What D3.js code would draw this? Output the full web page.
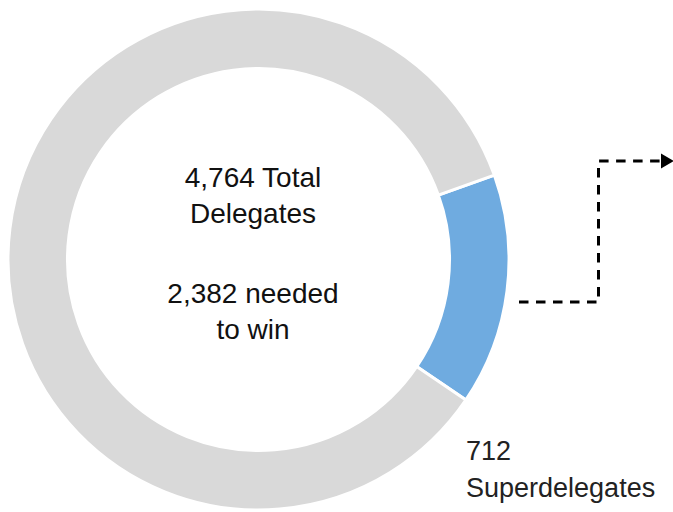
<!DOCTYPE html>
<html>
<head>
<meta charset="utf-8">
<script src="https://cdn.jsdelivr.net/npm/d3@7"></script>
<style>
  html, body { margin: 0; padding: 0; background: #fff; }
</style>
</head>
<body>
<div id="graph-container"></div>
<script>
const categories = ['Superdelegates', 'Pledged delegates'];
const values = [712, 4052];
const colors = ['#6fabe0', '#d9d9d9'];
const centerLines = ['4,764 Total', 'Delegates', '', '2,382 needed', 'to win'];
const calloutLines = ['712', 'Superdelegates'];

const main = () => {
  const width = 673;
  const height = 512;
  const cx = 258.5;
  const cy = 259.5;
  const outerR = 250.5;
  const innerR = 191;
  const START = 70.3 * Math.PI / 180;
  const FONT = "'Liberation Sans', Arial, sans-serif";

  const svg = d3.select('#graph-container')
    .append('svg')
    .attr('width', width)
    .attr('height', height)
    .attr('style', 'background:white;display:block');

  const pie = d3.pie()
    .sort(null)
    .value(d => d)
    .startAngle(START)
    .endAngle(START + 2 * Math.PI);

  const arc = d3.arc().innerRadius(innerR).outerRadius(outerR);

  const g = svg.append('g').attr('transform', `translate(${cx},${cy})`);

  g.selectAll('path.slice')
    .data(pie(values))
    .join('path')
    .attr('class', 'slice')
    .attr('d', arc)
    .attr('fill', (d, i) => colors[i])
    .attr('stroke', '#fff')
    .attr('stroke-width', 3);

  // centre text
  const lineH = 36;
  const top = 187;
  g.append('text')
    .attr('text-anchor', 'middle')
    .attr('font-family', FONT)
    .attr('font-size', 28)
    .attr('fill', '#111')
    .selectAll('tspan')
    .data(centerLines)
    .join('tspan')
    .attr('x', -5.5)
    .attr('y', (d, i) => top - cy + i * lineH + (i > 2 ? 8 : 0))
    .text(d => d);

  // dashed connector from the superdelegate slice
  const blue = pie(values)[0];
  const mid = (blue.startAngle + blue.endAngle) / 2;
  const x0 = cx + outerR + 10;
  const y0 = cy - Math.cos(mid) * outerR + 11;
  const xTurn = 598.5;
  const yTop = 161;
  const arrowLen = 11;
  svg.append('path')
    .attr('d', `M${x0},${y0} H${xTurn} V${yTop} H${width - arrowLen}`)
    .attr('fill', 'none')
    .attr('stroke', '#000')
    .attr('stroke-width', 3)
    .attr('stroke-dasharray', '9.5,7.5');

  svg.append('path')
    .attr('d', `M${width - arrowLen - 1},${yTop - 7.5} L${width + 1},${yTop} L${width - arrowLen - 1},${yTop + 7.5} Z`)
    .attr('fill', '#000');

  // callout label
  svg.append('text')
    .attr('font-family', FONT)
    .attr('font-size', 27)
    .attr('fill', '#222')
    .selectAll('tspan')
    .data(calloutLines)
    .join('tspan')
    .attr('x', 466)
    .attr('y', (d, i) => 460 + i * 37)
    .text(d => d);
};

main();
</script>
</body>
</html>
